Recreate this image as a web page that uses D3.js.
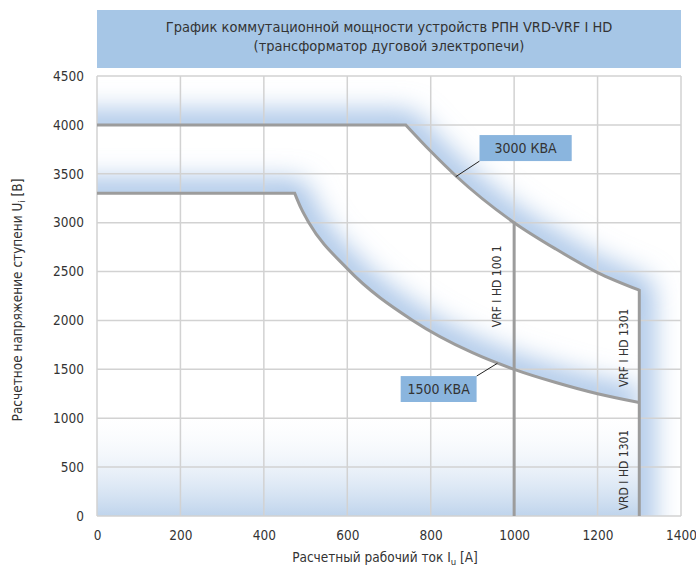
<!DOCTYPE html>
<html>
<head>
<meta charset="utf-8">
<script src="https://cdn.jsdelivr.net/npm/d3@7"></script>
<style>
  body { margin: 0; background: #fff; }
  text { font-family: "Liberation Sans Narrow", "DejaVu Sans Condensed", sans-serif; fill: #333; }
</style>
</head>
<body>
<div id="chart"></div>
<script>
// chart data
var titleLines = ["График коммутационной мощности устройств РПН VRD-VRF I HD", "(трансформатор дуговой электропечи)"];
var xTicks = [0, 200, 400, 600, 800, 1000, 1200, 1400];
var yTicks = [0, 500, 1000, 1500, 2000, 2500, 3000, 3500, 4000, 4500];

// switching capacity curves [current A, voltage V]
var curve3000 = [[0, 4000], [740, 4000], [800, 3730], [860, 3480], [1000, 3000], [1100, 2730], [1200, 2490], [1300, 2310]];
var curve1500 = [[0, 3300], [474, 3300], [490, 3140], [508, 3000], [600, 2530], [757, 2000], [900, 1670], [1000, 1500], [1100, 1365], [1200, 1250], [1300, 1160]];

// current limits of the devices
var limitCurrents = [1000, 1300];
var limitTops = [3000, 2310];
var deviceNames = ["VRF I HD 100 1", "VRF I HD 1301", "VRD I HD 1301"];
var deviceX = [958, 1262, 1262];
var deviceY = [2350, 1720, 470];

// power labels
var powerNames = ["3000 КВА", "1500 КВА"];
var powerBoxX = [917, 728];
var powerBoxX2 = [1138, 910];
var powerBoxY = [3896, 1431];
var powerBoxY2 = [3630, 1166];
var powerTipX = [860, 960];
var powerTipY = [3470, 1562];

var svgWidth = 696;
var svgHeight = 571;
var margin = { top: 76, right: 15, bottom: 55, left: 97 };
var width = svgWidth - margin.left - margin.right;
var height = svgHeight - margin.top - margin.bottom;

var svg = d3.select("#chart")
  .append("svg")
  .attr("width", svgWidth)
  .attr("height", svgHeight);

// title box
svg.append("rect")
  .attr("x", margin.left)
  .attr("y", 10)
  .attr("width", width)
  .attr("height", 58)
  .attr("fill", "#a6c6e6");

svg.append("g").selectAll("text")
  .data(titleLines)
  .enter()
  .append("text")
  .attr("x", margin.left + width / 2)
  .attr("y", (d, i) => 32 + i * 19)
  .attr("text-anchor", "middle")
  .style("font-size", "14.5px")
  .text(d => d);

var chartGroup = svg.append("g")
  .attr("transform", `translate(${margin.left}, ${margin.top})`);

var x = d3.scaleLinear().domain([0, 1400]).range([0, width]);
var y = d3.scaleLinear().domain([0, 4500]).range([height, 0]);

var defs = svg.append("defs");

defs.append("clipPath")
  .attr("id", "plotArea")
  .append("rect")
  .attr("x", 0).attr("y", 0)
  .attr("width", width).attr("height", height);

// bottom fade
var grad = defs.append("linearGradient")
  .attr("id", "bottomFade")
  .attr("gradientUnits", "userSpaceOnUse")
  .attr("x1", 0).attr("x2", 0)
  .attr("y1", y(1100)).attr("y2", y(0));
grad.append("stop").attr("offset", 0).attr("stop-color", "#ffffff").attr("stop-opacity", 0);
grad.append("stop").attr("offset", 1).attr("stop-color", "#bfd4ec").attr("stop-opacity", 1);

chartGroup.append("rect")
  .attr("x", 0)
  .attr("y", y(1100))
  .attr("width", x(1300))
  .attr("height", y(0) - y(1100))
  .attr("fill", "url(#bottomFade)");

// blur for the halos
defs.append("filter")
  .attr("id", "soft")
  .attr("x", "-30%").attr("y", "-30%")
  .attr("width", "160%").attr("height", "160%")
  .append("feGaussianBlur")
  .attr("stdDeviation", 14);

// path: straight first segment, smooth rest
function curvePath(pts) {
  var smooth = d3.line().x(d => x(d[0])).y(d => y(d[1])).curve(d3.curveMonotoneX)(pts.slice(1));
  return "M" + x(pts[0][0]) + "," + y(pts[0][1]) + "L" + smooth.slice(1);
}

// soft blue halo on the outer side of a curve
var haloLayer = chartGroup.append("g").attr("clip-path", "url(#plotArea)");
function glow(id, haloStr, clipStr) {
  defs.append("clipPath")
    .attr("id", id)
    .append("path")
    .attr("d", clipStr);
  haloLayer.append("g")
    .attr("clip-path", `url(#${id})`)
    .append("path")
    .attr("d", haloStr)
    .attr("fill", "none")
    .attr("stroke", "#94b7e2")
    .attr("stroke-width", 24)
    .attr("stroke-linejoin", "round")
    .attr("filter", "url(#soft)");
}

var path3000 = curvePath(curve3000);
var env3000 = "M-50," + y(curve3000[0][1]) + "L" + path3000.slice(1) + "L" + x(1300) + "," + (y(0) + 50);
glow("clip3000", env3000,
  env3000 + "L" + (width + 50) + "," + (y(0) + 50) + "L" + (width + 50) + ",-50L-50,-50Z");

var path1500 = curvePath(curve1500);
var env1500 = "M-50," + y(curve1500[0][1]) + "L" + path1500.slice(1);
glow("clip1500", env1500,
  env1500 + "L" + x(1300) + ",-50L-50,-50Z");

// grid
chartGroup.append("g").selectAll("line")
  .data(xTicks)
  .enter()
  .append("line")
  .attr("x1", d => x(d)).attr("x2", d => x(d))
  .attr("y1", 0).attr("y2", height)
  .attr("stroke", "#d2d2d2")
  .attr("stroke-width", 1.5);

chartGroup.append("g").selectAll("line")
  .data(yTicks)
  .enter()
  .append("line")
  .attr("x1", 0).attr("x2", width)
  .attr("y1", d => y(d)).attr("y2", d => y(d))
  .attr("stroke", "#d2d2d2")
  .attr("stroke-width", 1.5);

// axes (labels only)
var bottomAxis = d3.axisBottom(x).tickValues(xTicks).tickFormat(d3.format("d")).tickSize(0).tickPadding(14);
var leftAxis = d3.axisLeft(y).tickValues(yTicks).tickFormat(d3.format("d")).tickSize(0).tickPadding(13);

var xAxisG = chartGroup.append("g")
  .attr("transform", `translate(0, ${height})`)
  .call(bottomAxis);
var yAxisG = chartGroup.append("g").call(leftAxis);
[xAxisG, yAxisG].forEach(function(g) {
  g.select(".domain").remove();
  g.selectAll("text").style("font-size", "13.5px").attr("fill", "#333");
});

// curves
chartGroup.append("path")
  .attr("d", path3000)
  .attr("fill", "none")
  .attr("stroke", "#9c9c9c")
  .attr("stroke-width", 3);

chartGroup.append("path")
  .attr("d", path1500)
  .attr("fill", "none")
  .attr("stroke", "#9c9c9c")
  .attr("stroke-width", 3);

// device limits
chartGroup.append("g").selectAll("line")
  .data(limitCurrents)
  .enter()
  .append("line")
  .attr("x1", d => x(d)).attr("x2", d => x(d))
  .attr("y1", y(0))
  .attr("y2", (d, i) => y(limitTops[i]) - 1)
  .attr("stroke", "#9c9c9c")
  .attr("stroke-width", 3);

chartGroup.append("g").selectAll("text")
  .data(deviceNames)
  .enter()
  .append("text")
  .attr("transform", (d, i) => `translate(${x(deviceX[i])}, ${y(deviceY[i])}) rotate(-90)`)
  .attr("text-anchor", "middle")
  .attr("dy", "0.35em")
  .style("font-size", "12px")
  .text(d => d);

// power labels
var pl = chartGroup.append("g").selectAll("g")
  .data(powerNames)
  .enter()
  .append("g");

pl.append("line")
  .attr("x1", (d, i) => i === 0 ? x(powerBoxX[i]) : x(powerBoxX2[i]))
  .attr("y1", (d, i) => i === 0 ? y(powerBoxY2[i]) : y(powerBoxY[i]))
  .attr("x2", (d, i) => x(powerTipX[i]))
  .attr("y2", (d, i) => y(powerTipY[i]))
  .attr("stroke", "#222")
  .attr("stroke-width", 1);

pl.append("rect")
  .attr("x", (d, i) => x(powerBoxX[i]))
  .attr("y", (d, i) => y(powerBoxY[i]))
  .attr("width", (d, i) => x(powerBoxX2[i]) - x(powerBoxX[i]))
  .attr("height", (d, i) => y(powerBoxY2[i]) - y(powerBoxY[i]))
  .attr("fill", "#8ab5de");

pl.append("text")
  .attr("x", (d, i) => (x(powerBoxX[i]) + x(powerBoxX2[i])) / 2)
  .attr("y", (d, i) => (y(powerBoxY[i]) + y(powerBoxY2[i])) / 2)
  .attr("dy", "0.35em")
  .attr("text-anchor", "middle")
  .style("font-size", "14px")
  .text(d => d);

// axis titles
var xt = chartGroup.append("text")
  .attr("x", width / 2 - 4)
  .attr("y", height + 46)
  .attr("text-anchor", "middle")
  .style("font-size", "13.5px");
xt.append("tspan").text("Расчетный рабочий ток I");
xt.append("tspan").attr("baseline-shift", "-25%").style("font-size", "9.5px").text("u");
xt.append("tspan").text(" [A]");

var yt = chartGroup.append("text")
  .attr("transform", `translate(${-margin.left + 22}, ${height / 2 + 4}) rotate(-90)`)
  .attr("text-anchor", "middle")
  .style("font-size", "13.5px");
yt.append("tspan").text("Расчетное напряжение ступени U");
yt.append("tspan").attr("baseline-shift", "-25%").style("font-size", "9.5px").text("i");
yt.append("tspan").text(" [B]");
</script>
</body>
</html>
